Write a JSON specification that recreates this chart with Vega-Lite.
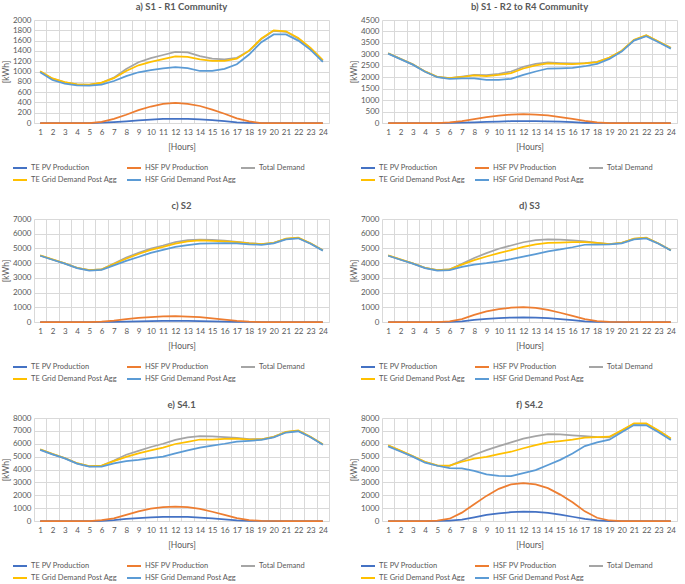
{
  "$schema": "https://vega.github.io/schema/vega-lite/v6.json",
  "padding": {"left": 1, "top": 1, "right": 1, "bottom": 0},
  "background": "white",
  "data": {"values": [
    {"p":"a","h":1,"T1":0,"H1":0,"D":1000,"T2":1005,"H2":985},
    {"p":"a","h":2,"T1":0,"H1":0,"D":860,"T2":865,"H2":835},
    {"p":"a","h":3,"T1":0,"H1":0,"D":790,"T2":795,"H2":765},
    {"p":"a","h":4,"T1":0,"H1":0,"D":750,"T2":752,"H2":730},
    {"p":"a","h":5,"T1":0,"H1":0,"D":740,"T2":745,"H2":725},
    {"p":"a","h":6,"T1":5,"H1":20,"D":780,"T2":785,"H2":745},
    {"p":"a","h":7,"T1":15,"H1":80,"D":880,"T2":870,"H2":815},
    {"p":"a","h":8,"T1":30,"H1":160,"D":1050,"T2":1010,"H2":910},
    {"p":"a","h":9,"T1":50,"H1":250,"D":1180,"T2":1120,"H2":985},
    {"p":"a","h":10,"T1":65,"H1":320,"D":1260,"T2":1185,"H2":1025},
    {"p":"a","h":11,"T1":80,"H1":370,"D":1320,"T2":1240,"H2":1060},
    {"p":"a","h":12,"T1":80,"H1":390,"D":1380,"T2":1295,"H2":1085},
    {"p":"a","h":13,"T1":80,"H1":370,"D":1370,"T2":1285,"H2":1065},
    {"p":"a","h":14,"T1":70,"H1":330,"D":1300,"T2":1235,"H2":1010},
    {"p":"a","h":15,"T1":55,"H1":260,"D":1250,"T2":1205,"H2":1010},
    {"p":"a","h":16,"T1":35,"H1":180,"D":1235,"T2":1205,"H2":1050},
    {"p":"a","h":17,"T1":10,"H1":90,"D":1265,"T2":1250,"H2":1140},
    {"p":"a","h":18,"T1":3,"H1":30,"D":1400,"T2":1405,"H2":1330},
    {"p":"a","h":19,"T1":0,"H1":0,"D":1630,"T2":1640,"H2":1570},
    {"p":"a","h":20,"T1":0,"H1":0,"D":1790,"T2":1800,"H2":1720},
    {"p":"a","h":21,"T1":0,"H1":0,"D":1770,"T2":1780,"H2":1720},
    {"p":"a","h":22,"T1":0,"H1":0,"D":1640,"T2":1650,"H2":1600},
    {"p":"a","h":23,"T1":0,"H1":0,"D":1450,"T2":1460,"H2":1420},
    {"p":"a","h":24,"T1":0,"H1":0,"D":1210,"T2":1220,"H2":1185},

    {"p":"b","h":1,"T1":0,"H1":0,"D":3040,"T2":3050,"H2":3030},
    {"p":"b","h":2,"T1":0,"H1":0,"D":2800,"T2":2805,"H2":2790},
    {"p":"b","h":3,"T1":0,"H1":0,"D":2560,"T2":2565,"H2":2550},
    {"p":"b","h":4,"T1":0,"H1":0,"D":2250,"T2":2255,"H2":2240},
    {"p":"b","h":5,"T1":0,"H1":0,"D":2010,"T2":2015,"H2":2000},
    {"p":"b","h":6,"T1":5,"H1":30,"D":1960,"T2":1965,"H2":1925},
    {"p":"b","h":7,"T1":15,"H1":80,"D":2030,"T2":2010,"H2":1950},
    {"p":"b","h":8,"T1":30,"H1":170,"D":2100,"T2":2080,"H2":1950},
    {"p":"b","h":9,"T1":50,"H1":260,"D":2090,"T2":2050,"H2":1880},
    {"p":"b","h":10,"T1":65,"H1":320,"D":2150,"T2":2100,"H2":1880},
    {"p":"b","h":11,"T1":80,"H1":370,"D":2250,"T2":2180,"H2":1930},
    {"p":"b","h":12,"T1":80,"H1":390,"D":2450,"T2":2380,"H2":2100},
    {"p":"b","h":13,"T1":80,"H1":370,"D":2580,"T2":2520,"H2":2250},
    {"p":"b","h":14,"T1":70,"H1":330,"D":2650,"T2":2600,"H2":2380},
    {"p":"b","h":15,"T1":55,"H1":260,"D":2620,"T2":2580,"H2":2390},
    {"p":"b","h":16,"T1":35,"H1":180,"D":2600,"T2":2570,"H2":2410},
    {"p":"b","h":17,"T1":10,"H1":90,"D":2620,"T2":2610,"H2":2480},
    {"p":"b","h":18,"T1":3,"H1":30,"D":2670,"T2":2660,"H2":2580},
    {"p":"b","h":19,"T1":0,"H1":0,"D":2850,"T2":2860,"H2":2800},
    {"p":"b","h":20,"T1":0,"H1":0,"D":3150,"T2":3160,"H2":3120},
    {"p":"b","h":21,"T1":0,"H1":0,"D":3620,"T2":3640,"H2":3600},
    {"p":"b","h":22,"T1":0,"H1":0,"D":3820,"T2":3840,"H2":3790},
    {"p":"b","h":23,"T1":0,"H1":0,"D":3550,"T2":3560,"H2":3530},
    {"p":"b","h":24,"T1":0,"H1":0,"D":3280,"T2":3290,"H2":3250},

    {"p":"c","h":1,"T1":0,"H1":0,"D":4520,"T2":4525,"H2":4500},
    {"p":"c","h":2,"T1":0,"H1":0,"D":4250,"T2":4255,"H2":4230},
    {"p":"c","h":3,"T1":0,"H1":0,"D":3980,"T2":3985,"H2":3965},
    {"p":"c","h":4,"T1":0,"H1":0,"D":3680,"T2":3685,"H2":3665},
    {"p":"c","h":5,"T1":0,"H1":0,"D":3520,"T2":3525,"H2":3500},
    {"p":"c","h":6,"T1":5,"H1":30,"D":3570,"T2":3575,"H2":3545},
    {"p":"c","h":7,"T1":10,"H1":100,"D":3980,"T2":3940,"H2":3850},
    {"p":"c","h":8,"T1":25,"H1":200,"D":4380,"T2":4300,"H2":4150},
    {"p":"c","h":9,"T1":45,"H1":280,"D":4700,"T2":4620,"H2":4420},
    {"p":"c","h":10,"T1":60,"H1":330,"D":4990,"T2":4900,"H2":4700},
    {"p":"c","h":11,"T1":70,"H1":380,"D":5200,"T2":5100,"H2":4900},
    {"p":"c","h":12,"T1":75,"H1":400,"D":5430,"T2":5330,"H2":5100},
    {"p":"c","h":13,"T1":75,"H1":370,"D":5560,"T2":5480,"H2":5230},
    {"p":"c","h":14,"T1":65,"H1":330,"D":5600,"T2":5550,"H2":5320},
    {"p":"c","h":15,"T1":50,"H1":240,"D":5580,"T2":5520,"H2":5340},
    {"p":"c","h":16,"T1":30,"H1":160,"D":5530,"T2":5480,"H2":5360},
    {"p":"c","h":17,"T1":10,"H1":80,"D":5450,"T2":5430,"H2":5350},
    {"p":"c","h":18,"T1":2,"H1":20,"D":5360,"T2":5350,"H2":5280},
    {"p":"c","h":19,"T1":0,"H1":0,"D":5300,"T2":5300,"H2":5250},
    {"p":"c","h":20,"T1":0,"H1":0,"D":5380,"T2":5385,"H2":5340},
    {"p":"c","h":21,"T1":0,"H1":0,"D":5650,"T2":5665,"H2":5620},
    {"p":"c","h":22,"T1":0,"H1":0,"D":5720,"T2":5735,"H2":5690},
    {"p":"c","h":23,"T1":0,"H1":0,"D":5340,"T2":5350,"H2":5320},
    {"p":"c","h":24,"T1":0,"H1":0,"D":4870,"T2":4880,"H2":4850},

    {"p":"d","h":1,"T1":0,"H1":0,"D":4520,"T2":4525,"H2":4500},
    {"p":"d","h":2,"T1":0,"H1":0,"D":4250,"T2":4255,"H2":4230},
    {"p":"d","h":3,"T1":0,"H1":0,"D":3980,"T2":3985,"H2":3965},
    {"p":"d","h":4,"T1":0,"H1":0,"D":3680,"T2":3685,"H2":3665},
    {"p":"d","h":5,"T1":0,"H1":0,"D":3520,"T2":3525,"H2":3500},
    {"p":"d","h":6,"T1":10,"H1":50,"D":3570,"T2":3580,"H2":3530},
    {"p":"d","h":7,"T1":50,"H1":200,"D":3950,"T2":3900,"H2":3750},
    {"p":"d","h":8,"T1":140,"H1":480,"D":4350,"T2":4200,"H2":3900},
    {"p":"d","h":9,"T1":220,"H1":720,"D":4680,"T2":4450,"H2":4000},
    {"p":"d","h":10,"T1":270,"H1":880,"D":4980,"T2":4680,"H2":4120},
    {"p":"d","h":11,"T1":300,"H1":970,"D":5200,"T2":4880,"H2":4270},
    {"p":"d","h":12,"T1":310,"H1":1010,"D":5420,"T2":5100,"H2":4450},
    {"p":"d","h":13,"T1":290,"H1":960,"D":5560,"T2":5280,"H2":4620},
    {"p":"d","h":14,"T1":260,"H1":820,"D":5610,"T2":5370,"H2":4800},
    {"p":"d","h":15,"T1":200,"H1":630,"D":5600,"T2":5400,"H2":4930},
    {"p":"d","h":16,"T1":130,"H1":420,"D":5550,"T2":5420,"H2":5080},
    {"p":"d","h":17,"T1":50,"H1":200,"D":5480,"T2":5430,"H2":5250},
    {"p":"d","h":18,"T1":10,"H1":60,"D":5380,"T2":5370,"H2":5260},
    {"p":"d","h":19,"T1":0,"H1":10,"D":5300,"T2":5300,"H2":5270},
    {"p":"d","h":20,"T1":0,"H1":0,"D":5380,"T2":5385,"H2":5340},
    {"p":"d","h":21,"T1":0,"H1":0,"D":5650,"T2":5665,"H2":5620},
    {"p":"d","h":22,"T1":0,"H1":0,"D":5720,"T2":5735,"H2":5680},
    {"p":"d","h":23,"T1":0,"H1":0,"D":5330,"T2":5340,"H2":5320},
    {"p":"d","h":24,"T1":0,"H1":0,"D":4870,"T2":4880,"H2":4860},

    {"p":"e","h":1,"T1":0,"H1":0,"D":5550,"T2":5570,"H2":5520},
    {"p":"e","h":2,"T1":0,"H1":0,"D":5200,"T2":5210,"H2":5180},
    {"p":"e","h":3,"T1":0,"H1":0,"D":4880,"T2":4890,"H2":4860},
    {"p":"e","h":4,"T1":0,"H1":0,"D":4480,"T2":4490,"H2":4460},
    {"p":"e","h":5,"T1":0,"H1":0,"D":4250,"T2":4260,"H2":4230},
    {"p":"e","h":6,"T1":10,"H1":60,"D":4280,"T2":4300,"H2":4230},
    {"p":"e","h":7,"T1":60,"H1":200,"D":4700,"T2":4650,"H2":4470},
    {"p":"e","h":8,"T1":160,"H1":480,"D":5150,"T2":4980,"H2":4650},
    {"p":"e","h":9,"T1":230,"H1":750,"D":5450,"T2":5250,"H2":4740},
    {"p":"e","h":10,"T1":280,"H1":960,"D":5750,"T2":5480,"H2":4880},
    {"p":"e","h":11,"T1":320,"H1":1080,"D":6000,"T2":5700,"H2":5000},
    {"p":"e","h":12,"T1":330,"H1":1120,"D":6300,"T2":5980,"H2":5250},
    {"p":"e","h":13,"T1":320,"H1":1080,"D":6500,"T2":6150,"H2":5480},
    {"p":"e","h":14,"T1":270,"H1":940,"D":6600,"T2":6330,"H2":5700},
    {"p":"e","h":15,"T1":200,"H1":720,"D":6580,"T2":6330,"H2":5860},
    {"p":"e","h":16,"T1":130,"H1":480,"D":6520,"T2":6380,"H2":6000},
    {"p":"e","h":17,"T1":50,"H1":220,"D":6460,"T2":6400,"H2":6170},
    {"p":"e","h":18,"T1":10,"H1":60,"D":6360,"T2":6330,"H2":6230},
    {"p":"e","h":19,"T1":0,"H1":10,"D":6350,"T2":6340,"H2":6300},
    {"p":"e","h":20,"T1":0,"H1":0,"D":6530,"T2":6540,"H2":6500},
    {"p":"e","h":21,"T1":0,"H1":0,"D":6900,"T2":6920,"H2":6870},
    {"p":"e","h":22,"T1":0,"H1":0,"D":7000,"T2":7030,"H2":6970},
    {"p":"e","h":23,"T1":0,"H1":0,"D":6530,"T2":6550,"H2":6500},
    {"p":"e","h":24,"T1":0,"H1":0,"D":5950,"T2":5960,"H2":5930},

    {"p":"f","h":1,"T1":0,"H1":0,"D":5850,"T2":5870,"H2":5800},
    {"p":"f","h":2,"T1":0,"H1":0,"D":5450,"T2":5470,"H2":5400},
    {"p":"f","h":3,"T1":0,"H1":0,"D":5020,"T2":5050,"H2":5000},
    {"p":"f","h":4,"T1":0,"H1":0,"D":4580,"T2":4600,"H2":4530},
    {"p":"f","h":5,"T1":5,"H1":30,"D":4300,"T2":4320,"H2":4290},
    {"p":"f","h":6,"T1":30,"H1":180,"D":4280,"T2":4300,"H2":4100},
    {"p":"f","h":7,"T1":100,"H1":650,"D":4700,"T2":4600,"H2":4080},
    {"p":"f","h":8,"T1":280,"H1":1300,"D":5150,"T2":4850,"H2":3900},
    {"p":"f","h":9,"T1":480,"H1":1950,"D":5500,"T2":4980,"H2":3620},
    {"p":"f","h":10,"T1":600,"H1":2500,"D":5820,"T2":5200,"H2":3500},
    {"p":"f","h":11,"T1":680,"H1":2850,"D":6100,"T2":5380,"H2":3480},
    {"p":"f","h":12,"T1":720,"H1":2950,"D":6400,"T2":5650,"H2":3720},
    {"p":"f","h":13,"T1":700,"H1":2850,"D":6600,"T2":5900,"H2":3950},
    {"p":"f","h":14,"T1":630,"H1":2550,"D":6750,"T2":6100,"H2":4350},
    {"p":"f","h":15,"T1":500,"H1":2050,"D":6720,"T2":6200,"H2":4750},
    {"p":"f","h":16,"T1":330,"H1":1450,"D":6650,"T2":6320,"H2":5250},
    {"p":"f","h":17,"T1":160,"H1":750,"D":6600,"T2":6470,"H2":5820},
    {"p":"f","h":18,"T1":40,"H1":250,"D":6520,"T2":6520,"H2":6100},
    {"p":"f","h":19,"T1":0,"H1":40,"D":6500,"T2":6550,"H2":6320},
    {"p":"f","h":20,"T1":0,"H1":0,"D":7000,"T2":7050,"H2":6900},
    {"p":"f","h":21,"T1":0,"H1":0,"D":7550,"T2":7580,"H2":7450},
    {"p":"f","h":22,"T1":0,"H1":0,"D":7550,"T2":7580,"H2":7430},
    {"p":"f","h":23,"T1":0,"H1":0,"D":7000,"T2":7020,"H2":6900},
    {"p":"f","h":24,"T1":0,"H1":0,"D":6380,"T2":6400,"H2":6300}
  ]},
  "spacing": 16,
  "resolve": {"scale": {"color": "independent"}, "legend": {"color": "independent"}},
  "vconcat": [
    {
      "spacing": 20,
      "resolve": {"scale": {"color": "independent"}, "legend": {"color": "independent"}},
      "hconcat": [
        {
          "title": "a) S1 - R1 Community",
          "width": 295, "height": 103,
          "transform": [{"filter": "datum.p == 'a'"}, {"fold": ["T1","H1","D","T2","H2"], "as": ["s","v"]}],
          "mark": {"type": "line", "strokeWidth": 1.75},
          "encoding": {
            "x": {"field": "h", "type": "ordinal", "bandPosition": 0.5, "scale": {"type": "band", "paddingInner": 0, "paddingOuter": 0}, "title": "[Hours]"},
            "y": {"field": "v", "type": "quantitative", "scale": {"domain": [0, 2000], "nice": false}, "axis": {"format": "d", "values": [0,200,400,600,800,1000,1200,1400,1600,1800,2000]}, "title": "[kWh]"},
            "color": {"field": "s", "type": "nominal", "scale": {"domain": ["T1","H1","D","T2","H2"], "range": ["#4472C4","#ED7D31","#A5A5A5","#FFC000","#5B9BD5"]},
              "legend": {"orient": "none", "direction": "horizontal", "legendX": -22, "legendY": 140, "labelExpr": "{'T1':'TE PV Production','H1':'HSF PV Production','D':'Total Demand','T2':'TE Grid Demand Post Agg','H2':'HSF Grid Demand Post Agg'}[datum.label]"}}
          }
        },
        {
          "title": "b) S1 - R2 to R4 Community",
          "width": 295, "height": 103,
          "transform": [{"filter": "datum.p == 'b'"}, {"fold": ["T1","H1","D","T2","H2"], "as": ["s","v"]}],
          "mark": {"type": "line", "strokeWidth": 1.75},
          "encoding": {
            "x": {"field": "h", "type": "ordinal", "bandPosition": 0.5, "scale": {"type": "band", "paddingInner": 0, "paddingOuter": 0}, "title": "[Hours]"},
            "y": {"field": "v", "type": "quantitative", "scale": {"domain": [0, 4500], "nice": false}, "axis": {"format": "d", "values": [0,500,1000,1500,2000,2500,3000,3500,4000,4500]}, "title": "[kWh]"},
            "color": {"field": "s", "type": "nominal", "scale": {"domain": ["T1","H1","D","T2","H2"], "range": ["#4472C4","#ED7D31","#A5A5A5","#FFC000","#5B9BD5"]},
              "legend": {"orient": "none", "direction": "horizontal", "legendX": -22, "legendY": 140, "labelExpr": "{'T1':'TE PV Production','H1':'HSF PV Production','D':'Total Demand','T2':'TE Grid Demand Post Agg','H2':'HSF Grid Demand Post Agg'}[datum.label]"}}
          }
        }
      ]
    },
    {
      "spacing": 20,
      "resolve": {"scale": {"color": "independent"}, "legend": {"color": "independent"}},
      "hconcat": [
        {
          "title": "c) S2",
          "width": 295, "height": 103,
          "transform": [{"filter": "datum.p == 'c'"}, {"fold": ["T1","H1","D","T2","H2"], "as": ["s","v"]}],
          "mark": {"type": "line", "strokeWidth": 1.75},
          "encoding": {
            "x": {"field": "h", "type": "ordinal", "bandPosition": 0.5, "scale": {"type": "band", "paddingInner": 0, "paddingOuter": 0}, "title": "[Hours]"},
            "y": {"field": "v", "type": "quantitative", "scale": {"domain": [0, 7000], "nice": false}, "axis": {"format": "d", "values": [0,1000,2000,3000,4000,5000,6000,7000]}, "title": "[kWh]"},
            "color": {"field": "s", "type": "nominal", "scale": {"domain": ["T1","H1","D","T2","H2"], "range": ["#4472C4","#ED7D31","#A5A5A5","#FFC000","#5B9BD5"]},
              "legend": {"orient": "none", "direction": "horizontal", "legendX": -22, "legendY": 140, "labelExpr": "{'T1':'TE PV Production','H1':'HSF PV Production','D':'Total Demand','T2':'TE Grid Demand Post Agg','H2':'HSF Grid Demand Post Agg'}[datum.label]"}}
          }
        },
        {
          "title": "d) S3",
          "width": 295, "height": 103,
          "transform": [{"filter": "datum.p == 'd'"}, {"fold": ["T1","H1","D","T2","H2"], "as": ["s","v"]}],
          "mark": {"type": "line", "strokeWidth": 1.75},
          "encoding": {
            "x": {"field": "h", "type": "ordinal", "bandPosition": 0.5, "scale": {"type": "band", "paddingInner": 0, "paddingOuter": 0}, "title": "[Hours]"},
            "y": {"field": "v", "type": "quantitative", "scale": {"domain": [0, 7000], "nice": false}, "axis": {"format": "d", "values": [0,1000,2000,3000,4000,5000,6000,7000]}, "title": "[kWh]"},
            "color": {"field": "s", "type": "nominal", "scale": {"domain": ["T1","H1","D","T2","H2"], "range": ["#4472C4","#ED7D31","#A5A5A5","#FFC000","#5B9BD5"]},
              "legend": {"orient": "none", "direction": "horizontal", "legendX": -22, "legendY": 140, "labelExpr": "{'T1':'TE PV Production','H1':'HSF PV Production','D':'Total Demand','T2':'TE Grid Demand Post Agg','H2':'HSF Grid Demand Post Agg'}[datum.label]"}}
          }
        }
      ]
    },
    {
      "spacing": 20,
      "resolve": {"scale": {"color": "independent"}, "legend": {"color": "independent"}},
      "hconcat": [
        {
          "title": "e) S4.1",
          "width": 295, "height": 103,
          "transform": [{"filter": "datum.p == 'e'"}, {"fold": ["T1","H1","D","T2","H2"], "as": ["s","v"]}],
          "mark": {"type": "line", "strokeWidth": 1.75},
          "encoding": {
            "x": {"field": "h", "type": "ordinal", "bandPosition": 0.5, "scale": {"type": "band", "paddingInner": 0, "paddingOuter": 0}, "title": "[Hours]"},
            "y": {"field": "v", "type": "quantitative", "scale": {"domain": [0, 8000], "nice": false}, "axis": {"format": "d", "values": [0,1000,2000,3000,4000,5000,6000,7000,8000]}, "title": "[kWh]"},
            "color": {"field": "s", "type": "nominal", "scale": {"domain": ["T1","H1","D","T2","H2"], "range": ["#4472C4","#ED7D31","#A5A5A5","#FFC000","#5B9BD5"]},
              "legend": {"orient": "none", "direction": "horizontal", "legendX": -22, "legendY": 140, "labelExpr": "{'T1':'TE PV Production','H1':'HSF PV Production','D':'Total Demand','T2':'TE Grid Demand Post Agg','H2':'HSF Grid Demand Post Agg'}[datum.label]"}}
          }
        },
        {
          "title": "f) S4.2",
          "width": 295, "height": 103,
          "transform": [{"filter": "datum.p == 'f'"}, {"fold": ["T1","H1","D","T2","H2"], "as": ["s","v"]}],
          "mark": {"type": "line", "strokeWidth": 1.75},
          "encoding": {
            "x": {"field": "h", "type": "ordinal", "bandPosition": 0.5, "scale": {"type": "band", "paddingInner": 0, "paddingOuter": 0}, "title": "[Hours]"},
            "y": {"field": "v", "type": "quantitative", "scale": {"domain": [0, 8000], "nice": false}, "axis": {"format": "d", "values": [0,1000,2000,3000,4000,5000,6000,7000,8000]}, "title": "[kWh]"},
            "color": {"field": "s", "type": "nominal", "scale": {"domain": ["T1","H1","D","T2","H2"], "range": ["#4472C4","#ED7D31","#A5A5A5","#FFC000","#5B9BD5"]},
              "legend": {"orient": "none", "direction": "horizontal", "legendX": -22, "legendY": 140, "labelExpr": "{'T1':'TE PV Production','H1':'HSF PV Production','D':'Total Demand','T2':'TE Grid Demand Post Agg','H2':'HSF Grid Demand Post Agg'}[datum.label]"}}
          }
        }
      ]
    }
  ],
  "config": {
    "font": "Lato",
    "view": {"stroke": null},
    "title": {"fontSize": 9.5, "fontWeight": "bold", "color": "#595959", "offset": 5},
    "axis": {"labelColor": "#595959", "titleColor": "#595959", "labelFontSize": 8, "titleFontSize": 8.5, "titleFontWeight": "normal", "gridColor": "#D9D9D9", "ticks": false, "domainColor": "#D9D9D9"},
    "axisX": {"tickBand": "extent", "labelAngle": 0, "labelPadding": 5, "titlePadding": 6, "grid": true},
    "axisY": {"domain": false, "labelPadding": 3, "titlePadding": 2},
    "legend": {"title": null, "columns": 3, "gridAlign": "all", "labelFontSize": 7.5, "labelColor": "#595959", "labelOffset": 3, "symbolType": "stroke", "symbolSize": 196, "symbolStrokeWidth": 2, "rowPadding": 0, "columnPadding": 0}
  }
}
